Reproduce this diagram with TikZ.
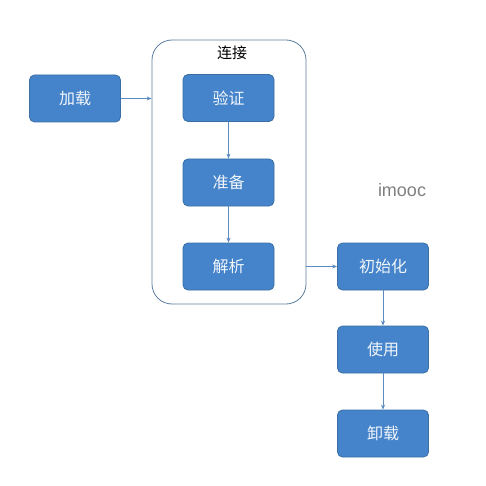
\documentclass[tikz,border=0pt]{standalone}
\usepackage{fontspec}
\setmainfont{Liberation Sans}
\newfontfamily\cjk{Noto Sans CJK SC}
\usetikzlibrary{arrows.meta}
\definecolor{boxfill}{HTML}{4584CA}
\definecolor{boxline}{HTML}{3B6EA5}
\definecolor{conn}{HTML}{5B8BC0}
\definecolor{frame}{HTML}{5F7F9F}
\definecolor{boxtext}{HTML}{F2F6FB}
\tikzset{
  stage/.style={draw=boxline, line width=0.8pt, fill=boxfill, rounded corners=5pt,
    minimum width=91pt, minimum height=47pt, inner sep=0pt, text=boxtext,
    font=\cjk\fontsize{16}{16}\selectfont},
  link/.style={draw=conn, line width=0.8pt, -{Stealth[length=5pt,width=4pt]}},
}
\begin{document}
\begin{tikzpicture}[x=1pt,y=-1pt]
\fill[white] (0,0) rectangle (485,486);
\useasboundingbox (0,0) rectangle (485,486);
\node[draw=frame, line width=0.8pt, rounded corners=20pt, minimum width=154pt, minimum height=264pt, inner sep=0pt] (group) at (229,172) {};
\node[font=\cjk\fontsize{15}{15}\selectfont] (grouplabel) at (232,53) {连接};
\node[stage] (load) at (75,98.5) {加载};
\node[stage] (verify) at (228.5,98) {验证};
\node[stage] (prepare) at (228.5,182.5) {准备};
\node[stage] (resolve) at (228.5,266.5) {解析};
\node[stage] (init) at (383,266.5) {初始化};
\node[stage] (use) at (383,349.5) {使用};
\node[stage] (unload) at (383,433.5) {卸载};
\node[text=black!50, font=\fontsize{18}{18}\selectfont] (mark) at (402,190) {imooc};
\draw[link] (load.east) -- (load.east -| group.west);
\draw[link] (verify) -- (prepare);
\draw[link] (prepare) -- (resolve);
\draw[link] (init.west -| group.east) -- (init.west);
\draw[link] (init) -- (use);
\draw[link] (use) -- (unload);
\end{tikzpicture}
\end{document}
